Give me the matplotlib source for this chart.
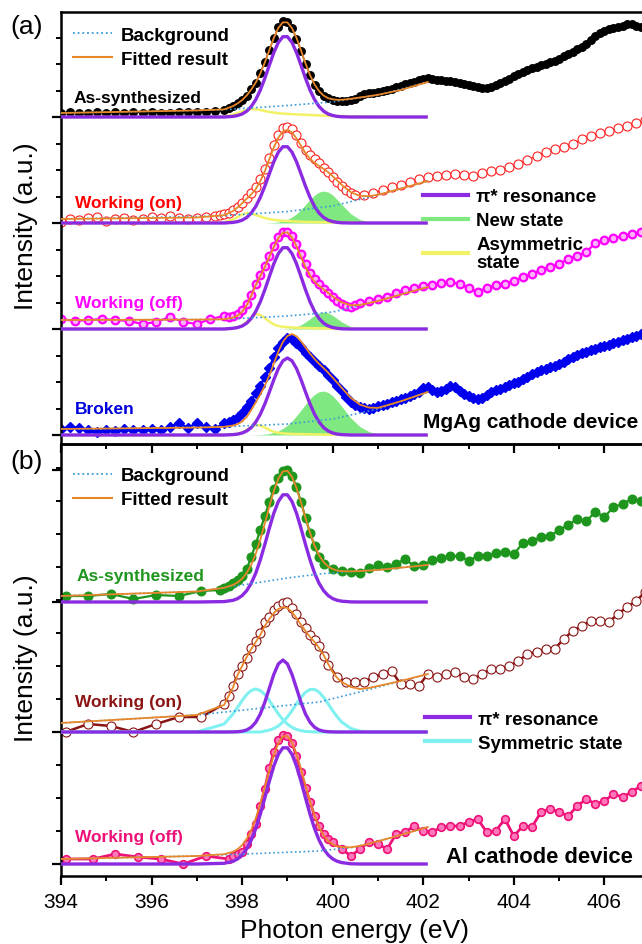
import numpy as np
import matplotlib
matplotlib.use("Agg")
import matplotlib.pyplot as plt
from matplotlib.lines import Line2D
from matplotlib.ticker import FixedLocator, MultipleLocator

plt.rcParams['font.family'] = ['Liberation Sans', 'DejaVu Sans']

# ------------------------------------------------------------------
# Shared energy grid of the fitted curves (eV)
FX = [394.0, 397.0, 397.6, 397.8, 397.9, 398.0, 398.1, 398.2, 398.3, 398.4,
      398.5, 398.6, 398.7, 398.8, 398.9, 399.0, 399.1, 399.2, 399.3, 399.4,
      399.5, 399.6, 399.7, 399.8, 399.9, 400.0, 400.1, 400.2, 400.4, 400.6,
      400.8, 401.0, 401.5, 402.1]

# ======================= Panel (a): MgAg cathode ===================
BGX_A = [394.0, 397.5, 399.0, 400.0, 401.0, 402.1]

# As-synthesized
as_a_left_y = [4, 5, 4, 4, 5, 4, 5, 4, 5, 4, 5, 4, 4, 5, 5, 5, 5, 6, 7]
as_a_peak_y = [9, 11, 14, 17, 21, 28, 34, 44, 55, 67, 79, 90, 96, 95, 89, 78, 66, 53,
               42, 32, 26, 21, 19, 17, 16, 16, 16, 17, 18]
as_a_tail_y = [21, 23, 24, 24, 25, 26, 27, 28, 30, 31, 33, 34, 35, 37, 38, 39, 38, 37,
               37, 36, 36, 35, 34, 33, 32, 31, 30, 29, 29, 30, 32, 34, 36, 38, 41, 43,
               45, 47, 49, 50, 52, 53, 55, 56, 58, 61, 63, 65, 68, 70, 73, 77, 81, 84,
               86, 88, 89, 90, 91, 93, 93, 91, 90, 89, 88]
pi_as_a = [0, 0, 0, 0.6, 1.5, 3.0, 5.8, 10.4, 17.3, 26.8, 38.6, 51.8, 64.5, 74.6, 80.3,
           80.3, 74.6, 64.5, 51.8, 38.6, 26.8, 17.3, 10.4, 5.8, 3.0, 1.5, 0.6, 0.2,
           0, 0, 0, 0, 0, 0]
yel_as_a = [0, 0, 0.3, 2.5, 4, 5.5, 7, 8, 7.8, 7, 6, 5, 4.3, 3.8, 3.4, 3.1, 2.8, 2.6,
            2.4, 2.2, 2.0, 1.8, 1.6, 1.4, 1.2, 1.1, 1.0, 0.9, 0.7, 0.5, 0.3, 0.2, 0, 0]
fit_as_a = [4, 6.6, 7.6, 10.9, 13.6, 16.9, 21.5, 27.4, 34.4, 43.3, 54.4, 66.9, 79.2,
            89.1, 94.7, 94.6, 88.9, 79.2, 66.6, 53.5, 41.8, 32.5, 25.8, 21.4, 18.8,
            17.7, 17.2, 17.2, 18.2, 19.5, 20.8, 22.2, 27, 35]
bg_as_a = [4, 7, 11.5, 15.1, 22, 35]

# Working (on)
on_a_left_y = [1, 4, 3, 5, 6, 2, 4, 5, 3, 4, 6, 5, 7, 5, 4, 5, 6, 7]
on_a_peak_y = [8, 9, 10, 13, 16, 20, 25, 30, 36, 44, 54, 65, 78, 88, 95, 96, 94, 88,
               80, 73, 68, 64, 60, 55, 51, 46, 41, 37, 33, 30, 28]
on_a_tail_y = [28, 30, 33, 36, 38, 41, 44, 46, 47, 48, 49, 48, 47, 50, 52, 53, 56, 59,
               63, 67, 71, 74, 76, 79, 84, 87, 90, 92, 95, 97, 100, 103, 105]
pi_on_a = [0, 0, 0, 0.6, 1.4, 2.8, 5.5, 9.9, 16.5, 25.5, 36.7, 49.2, 61.3, 70.9, 76.3,
           76.3, 70.9, 61.3, 49.2, 36.7, 25.5, 16.5, 9.9, 5.5, 2.8, 1.4, 0.6, 0.2,
           0, 0, 0, 0, 0, 0]
yel_on_a = [0, 0, 0.5, 3.5, 6, 8.5, 10, 9.5, 8, 6.5, 5, 4, 3.2, 2.6, 2.2, 1.9, 1.7,
            1.5, 1.3, 1.1, 1.0, 0.9, 0.8, 0.7, 0.6, 0.5, 0.4, 0.3, 0.2, 0.1, 0, 0, 0, 0]
grn_on_a = [0, 0, 0, 0, 0, 0, 0, 0, 0, 0, 0, 0.2, 0.5, 1.0, 2.0, 3.5, 5.9, 9.2, 13.5,
            18.4, 23.4, 27.9, 30.9, 32, 30.9, 27.9, 23.4, 18.4, 9.2, 3.5, 1.0, 0.2, 0, 0]
fit_on_a = [4, 5.5, 7.8, 12.0, 15.6, 19.8, 24.3, 28.5, 33.9, 41.7, 51.7, 63.7, 75.6,
            85.4, 91.7, 93.2, 90.6, 84.6, 77.2, 69.9, 64.2, 60.1, 57.0, 54.1, 50.8,
            46.8, 42.5, 38.1, 30.8, 27.1, 26.8, 28.2, 34.4, 42]
bg_on_a = [4, 7, 11.5, 17, 28, 42]

# Working (off)
off_a_left_y = [10, 8, 9, 10, 9, 8, 5, 7, 12, 7, 5, 10, 13]
off_a_peak_y = [12, 13, 15, 19, 25, 34, 45, 54, 63, 73, 83, 92, 97, 97, 93, 85, 75,
                65, 56, 50, 45, 40, 36, 32, 28, 25, 23, 22, 24]
off_a_tail_y = [26, 28, 30, 32, 36, 39, 41, 43, 44, 46, 47, 45, 41, 37, 41, 44, 45,
                48, 52, 55, 59, 62, 65, 70, 73, 77, 86, 89, 91, 93, 95, 97, 99]
pi_off_a = [0, 0, 0, 0.7, 1.5, 3.0, 5.8, 10.5, 17.5, 27.1, 39.1, 52.4, 65.3, 75.5,
            81.3, 81.3, 75.5, 65.3, 52.4, 39.1, 27.1, 17.5, 10.5, 5.8, 3.0, 1.5, 0.7,
            0.2, 0, 0, 0, 0, 0, 0]
yel_off_a = [0, 0, 0, 0.5, 1.5, 3.5, 7, 11.5, 15, 14, 11, 7.5, 4.5, 3, 2.2, 1.8, 1.5,
             1.3, 1.1, 1.0, 0.9, 0.8, 0.7, 0.6, 0.5, 0.4, 0.3, 0.2, 0.1, 0, 0, 0, 0, 0]
grn_off_a = [0, 0, 0, 0, 0, 0, 0, 0, 0, 0, 0, 0, 0, 0.1, 0.2, 0.5, 1.1, 2.3, 4.2, 7.0,
             10.3, 13.6, 16.1, 17, 16.1, 13.6, 10.3, 7.0, 2.3, 0.5, 0.1, 0, 0, 0]
fit_off_a = [9, 9.4, 9.7, 11.4, 13.4, 17.2, 23.7, 33.1, 43.9, 52.7, 61.9, 72.0, 82.1,
             91.0, 96.3, 96.6, 91.5, 82.7, 71.9, 61.7, 53.3, 47.3, 43.1, 39.6, 36.2,
             32.5, 29.4, 26.6, 23.8, 24.1, 25.9, 28, 34.4, 42]
bg_off_a = [9, 9.5, 13, 17, 28, 42]

# Broken
br_a_left_y = [6, 8, 7, 5, 3, 5, 4, 6, 5, 5, 6, 5, 8, 12, 7, 12, 8, 6, 12]
br_a_peak_y = [13, 15, 18, 22, 28, 34, 42, 49, 58, 67, 78, 87, 93, 97, 96, 92, 88, 82,
               78, 73, 69, 65, 60, 55, 49, 44, 38, 33, 30]
br_a_tail_y = [28, 27, 26, 27, 29, 30, 31, 33, 34, 36, 37, 39, 41, 43, 47, 48, 45, 43,
               44, 46, 49, 48, 44, 41, 39, 37, 36, 37, 40, 43, 45, 46, 48, 50, 52, 53,
               56, 58, 61, 63, 65, 66, 68, 69, 71, 73, 76, 78, 80, 82, 83, 85, 86, 88,
               89, 90, 92, 93, 95, 96, 98, 99, 101, 102, 103]
pi_br_a = [0, 0, 0, 0.4, 0.9, 2.0, 4.0, 7.4, 12.9, 20.7, 30.9, 42.9, 55.4, 66.5, 74.2,
           77.0, 74.2, 66.5, 55.4, 42.9, 30.9, 20.7, 12.9, 7.4, 4.0, 2.0, 0.9, 0.4,
           0, 0, 0, 0, 0, 0]
yel_br_a = [0, 0, 0, 0.5, 1.2, 2.5, 5, 8, 10, 9.5, 7.5, 5, 3.2, 2.2, 1.6, 1.3, 1.1,
            1.0, 0.9, 0.8, 0.7, 0.6, 0.5, 0.4, 0.3, 0.25, 0.2, 0.15, 0.1, 0, 0, 0, 0, 0]
grn_br_a = [0, 0, 0, 0, 0, 0, 0, 0.1, 0.2, 0.4, 0.8, 1.4, 2.5, 4.1, 6.5, 9.8, 14.1,
            19.2, 24.9, 30.8, 36.3, 40.6, 43.3, 44, 42.5, 39.0, 34.2, 28.5, 17.0, 8.4,
            3.4, 1.1, 0, 0]
fit_br_a = [6, 7.4, 8.2, 9.5, 10.9, 13.5, 18.2, 24.9, 32.7, 40.4, 49.2, 59.5, 71.5,
            83.4, 93.1, 99.1, 100.9, 98.7, 93.7, 87.5, 81.4, 75.9, 71.2, 66.8, 62.3,
            57.3, 52.3, 47.1, 37.1, 30.4, 27.4, 27.1, 33.7, 43]
bg_br_a = [6, 8, 11, 16, 26, 43]

# ======================= Panel (b): Al cathode =====================
BGX_B = [394.0, 397.0, 398.0, 399.0, 399.7, 400.5, 401.2, 402.1]

# As-synthesized
as_b_left_x = [394.1, 394.6, 395.1, 395.6, 396.1, 396.6, 397.1, 397.5]
as_b_left_y = [6, 6, 8, 3, 7, 6, 11, 12]
as_b_peak_y = [14, 16, 19, 22, 26, 33, 45, 58, 72, 86, 100, 113, 124, 131, 132, 126,
               115, 100, 84, 69, 56, 45, 38]
as_b_tail_y = [33, 31, 30, 29, 34, 37, 35, 38, 43, 36, 37, 42, 44, 46, 46, 41, 46, 46,
               49, 50, 48, 59, 61, 65, 66, 72, 77, 83, 81, 90, 85, 95, 98, 103, 101]
pi_as_b = [0, 0, 0.4, 1.7, 3.4, 6.4, 11.3, 18.6, 28.8, 42.0, 57.4, 73.7, 88.9, 100.6,
           107.2, 107.2, 100.6, 88.9, 73.7, 57.4, 42.0, 28.8, 18.6, 11.3, 6.4, 3.4,
           1.7, 0.8, 0.1, 0, 0, 0, 0, 0]
fit_as_b = [6, 10.5, 14.2, 17.1, 19.6, 23.4, 29.1, 37.2, 48.2, 62.2, 78.4, 95.3, 111.1,
            123.4, 130.6, 131.2, 125.2, 114.1, 99.5, 83.8, 69.0, 56.3, 46.6, 39.8,
            35.4, 32.9, 31.5, 30.8, 30.6, 31, 31.5, 32, 34.3, 37]
bg_as_b = [6, 10.5, 17, 24, 28, 30.8, 33, 37]

# Working (on)
on_b_left_x = [394.1, 394.6, 395.1, 395.6, 396.1, 396.6, 397.1, 397.6]
on_b_left_y = [0, 8, 6, 0, 8, 15, 15, 28]
on_b_peak_y = [36, 46, 58, 66, 74, 84, 91, 99, 110, 115, 122, 126, 129, 130, 124, 118,
               110, 104, 97, 92, 86, 76, 67]
on_b_tail_y = [55, 50, 50, 50, 55, 58, 61, 48, 48, 46, 58, 55, 58, 60, 55, 53, 58, 63,
               63, 66, 71, 78, 80, 83, 83, 93, 101, 106, 111, 111, 110, 118, 125, 131,
               140]
pi_on_b = [0, 0, 0, 0.1, 0.3, 0.8, 2.0, 4.7, 9.7, 17.9, 29.6, 43.7, 57.7, 68.1, 72,
           68.1, 57.7, 43.7, 29.6, 17.9, 9.7, 4.7, 2.0, 0.8, 0.3, 0.1, 0, 0, 0, 0, 0,
           0, 0, 0]
sym1_on_b = [0, 0.1, 7.9, 18.1, 24.7, 31.5, 37.5, 41.5, 43, 41.5, 37.5, 31.5, 24.7,
             18.1, 12.3, 7.9, 4.7, 2.6, 1.3, 0.6, 0.3, 0.1, 0, 0, 0, 0, 0, 0, 0, 0, 0,
             0, 0, 0]
sym2_on_b = [0, 0, 0, 0, 0, 0, 0, 0, 0, 0, 0.9, 1.9, 3.5, 6.1, 9.9, 15.1, 21.3, 28.1,
             34.6, 39.8, 42.6, 42.6, 39.8, 34.6, 28.1, 21.3, 15.1, 9.9, 3.5, 0.9, 0.2,
             0, 0, 0]
fit_on_b = [9, 17, 27, 45, 57, 66, 75, 83, 90, 97, 106, 113, 119, 123, 125, 124, 120,
            114, 107, 101, 95, 90, 84, 77, 68, 60, 54, 50, 45, 43, 44, 46, 51, 58]
bg_on_b = [9, 17, 21.8, 26.7, 30, 38.9, 47.2, 58]

# Working (off)
off_b_left_x = [394.1, 394.7, 395.2, 395.7, 396.2, 396.7, 397.2, 397.7]
off_b_left_y = [5, 5, 10, 7, 5, 0, 8, 5]
off_b_peak_y = [8, 10, 12, 20, 30, 40, 58, 75, 96, 112, 124, 129, 128, 121, 108, 92,
                76, 62, 48, 38, 30, 25]
off_b_tail_y = [22, 15, 8, 15, 22, 20, 15, 30, 32, 38, 33, 32, 37, 38, 38, 42, 45, 32,
                33, 45, 28, 38, 37, 52, 55, 52, 48, 58, 65, 60, 63, 70, 67, 72, 78]
pi_off_b = [0, 0, 0.7, 2.7, 5.1, 9.0, 15.1, 23.8, 35.3, 49.6, 65.9, 82.7, 98.0, 109.7,
            116.2, 116.2, 109.7, 98.0, 82.7, 65.9, 49.6, 35.3, 23.8, 15.1, 9.0, 5.1,
            2.7, 1.4, 0.2, 0, 0, 0, 0, 0]
fit_off_b = [5, 8, 9.8, 12.2, 14.8, 18.9, 25.1, 34.0, 45.7, 60.2, 76.7, 93.7, 109.1,
             121.0, 127.7, 127.9, 121.6, 110.1, 94.9, 78.3, 62.2, 48.1, 36.8, 28.6,
             23.0, 19.6, 17.7, 16.9, 16.7, 18.1, 20.4, 22.7, 29, 37]
bg_off_b = [5, 8, 9.9, 11.7, 13, 17, 25, 37]

# x tick labels
XTICKS = [394, 396, 398, 400, 402, 404, 406]

# ------------------------------------------------------------------
C_PI = '#8a2be2'
C_GRN = '#80e880'
C_YEL = '#f2f266'
C_CYAN = '#80f0f0'
C_BG = '#3a9ad9'
C_FIT = '#e8862a'

W, H = 642, 945
fig = plt.figure(figsize=(W / 100, H / 100), dpi=100)


def px_axes(l, t, r, b):
    return fig.add_axes([l / W, 1 - b / H, (r - l) / W, (b - t) / H])


ax_a = px_axes(61, 13, 695, 445)
ax_b = px_axes(61, 445, 695, 877)


def seg(x0, x1, ys):
    return np.linspace(x0, x1, len(ys))


def data(ax, off, xs, ys, **kw):
    x = np.concatenate(xs)
    y = np.concatenate([np.asarray(v, float) for v in ys]) + off
    ax.plot(x, y, zorder=2, **kw)


def comp(ax, off, vals, color, lw, z=4):
    ax.plot(FX, off + np.asarray(vals, float), color=color, lw=lw, zorder=z,
            solid_capstyle='butt')


def green(ax, off, vals):
    ax.fill_between(FX, off, off + np.asarray(vals, float), color=C_GRN, lw=0, zorder=1)


def bgfit(ax, off, bgx, bg, fit):
    ax.plot(bgx, off + np.asarray(bg, float), ls=(0, (1, 1.6)), color=C_BG, lw=1.2, zorder=5)
    ax.plot(FX, off + np.asarray(fit, float), color=C_FIT, lw=1.3, zorder=6)


# ---------------- panel (a) ----------------
OFF_A = [9, 115, 221, 327]   # broken, off, on, as-synth baselines

o = OFF_A[3]
data(ax_a, o, [seg(394.0, 397.6, as_a_left_y), seg(397.7, 400.5, as_a_peak_y),
               seg(400.6, 407.0, as_a_tail_y)],
     [as_a_left_y, as_a_peak_y, as_a_tail_y],
     color='black', lw=1.0, marker='o', ms=5.4, mfc='black', mec='black')
comp(ax_a, o, yel_as_a, C_YEL, 1.8, 3)
comp(ax_a, o, pi_as_a, C_PI, 2.4)
bgfit(ax_a, o, BGX_A, bg_as_a, fit_as_a)

o = OFF_A[2]
green(ax_a, o, grn_on_a)
data(ax_a, o, [seg(394.0, 397.4, on_a_left_y), seg(397.5, 400.5, on_a_peak_y),
               seg(400.7, 407.1, on_a_tail_y)],
     [on_a_left_y, on_a_peak_y, on_a_tail_y],
     color='#ff2020', lw=0.9, marker='o', ms=6.5, mfc='white', mec='#ff2020', mew=0.8)
comp(ax_a, o, yel_on_a, C_YEL, 1.8, 3)
comp(ax_a, o, pi_on_a, C_PI, 2.4)
bgfit(ax_a, o, BGX_A, bg_on_a, fit_on_a)

o = OFF_A[1]
green(ax_a, o, grn_off_a)
data(ax_a, o, [seg(394.0, 397.6, off_a_left_y), seg(397.7, 400.5, off_a_peak_y),
               seg(400.6, 407.0, off_a_tail_y)],
     [off_a_left_y, off_a_peak_y, off_a_tail_y],
     color='#ff00ff', lw=1.6, marker='o', ms=5.5, mfc='#ffb3ff', mec='#ff00ff', mew=1.6)
comp(ax_a, o, yel_off_a, C_YEL, 1.8, 3)
comp(ax_a, o, pi_off_a, C_PI, 2.4)
bgfit(ax_a, o, BGX_A, bg_off_a, fit_off_a)

o = OFF_A[0]
green(ax_a, o, grn_br_a)
data(ax_a, o, [seg(394.0, 397.6, br_a_left_y), seg(397.7, 400.5, br_a_peak_y),
               seg(400.6, 407.0, br_a_tail_y)],
     [br_a_left_y, br_a_peak_y, br_a_tail_y],
     color='#0000ee', lw=1.8, marker='D', ms=5.0, mfc='#0000ee', mec='#0000ee')
comp(ax_a, o, yel_br_a, C_YEL, 1.8, 3)
comp(ax_a, o, pi_br_a, C_PI, 2.4)
bgfit(ax_a, o, BGX_A, bg_br_a, fit_br_a)

# ---------------- panel (b) ----------------
OFF_B = [12, 144, 274]   # off, on, as-synth baselines

o = OFF_B[2]
data(ax_b, o, [np.array(as_b_left_x), seg(397.6, 399.8, as_b_peak_y),
               seg(400.0, 406.8, as_b_tail_y)],
     [as_b_left_y, as_b_peak_y, as_b_tail_y],
     color='#1e961e', lw=1.6, marker='o', ms=6.2, mfc='#1e961e', mec='#1e961e')
comp(ax_b, o, pi_as_b, C_PI, 2.4)
bgfit(ax_b, o, BGX_B, bg_as_b, fit_as_b)

o = OFF_B[1]
data(ax_b, o, [np.array(on_b_left_x), seg(397.7, 399.9, on_b_peak_y),
               seg(400.1, 406.9, on_b_tail_y)],
     [on_b_left_y, on_b_peak_y, on_b_tail_y],
     color='#8b1414', lw=1.8, marker='o', ms=6.5, mfc='white', mec='#8b1414', mew=0.8)
comp(ax_b, o, sym1_on_b, C_CYAN, 2.2, 3)
comp(ax_b, o, sym2_on_b, C_CYAN, 2.2, 3)
comp(ax_b, o, pi_on_b, C_PI, 2.4)
bgfit(ax_b, o, BGX_B, bg_on_b, fit_on_b)

o = OFF_B[0]
data(ax_b, o, [np.array(off_b_left_x), seg(397.8, 399.9, off_b_peak_y),
               seg(400.0, 406.8, off_b_tail_y)],
     [off_b_left_y, off_b_peak_y, off_b_tail_y],
     color='#ee1177', lw=2.0, marker='o', ms=5.5, mfc='#ff77bb', mec='#ee1177', mew=1.2)
comp(ax_b, o, pi_off_b, C_PI, 2.4)
bgfit(ax_b, o, BGX_B, bg_off_b, fit_off_b)

# ---------------- axes styling ----------------
for ax in (ax_a, ax_b):
    ax.set_xlim(394, 408)
    ax.set_ylim(0, 432)
    ax.patch.set_visible(False)
    for s in ax.spines.values():
        s.set_linewidth(1.8)
    ax.xaxis.set_major_locator(FixedLocator(XTICKS))
    ax.xaxis.set_minor_locator(MultipleLocator(1))
    ax.tick_params(which='major', direction='out', length=6.5, width=1.6, labelsize=15,
                   pad=5)
    ax.tick_params(which='minor', direction='out', length=3.8, width=1.4)
    ax.tick_params(axis='y', labelleft=False)
    ax.tick_params(top=False, right=False)

step_a = (OFF_A[1] - OFF_A[0]) / 4
ax_a.yaxis.set_major_locator(FixedLocator(OFF_A))
ax_a.yaxis.set_minor_locator(FixedLocator([OFF_A[0] + k * step_a for k in range(17)]))
ax_a.tick_params(axis='x', labelbottom=False)

step_b = (OFF_B[1] - OFF_B[0]) / 4
ax_b.yaxis.set_major_locator(FixedLocator(OFF_B + [OFF_B[2] + 4 * step_b]))
ax_b.yaxis.set_minor_locator(FixedLocator([OFF_B[0] + k * step_b for k in range(13)]))

# ---------------- text ----------------
lab = dict(fontsize=12.5, fontweight='bold', va='center', ha='left')
ax_a.text(394.27, 347, 'As-synthesized', color='black', **lab)
ax_a.text(394.3, 242, 'Working (on)', color='#ff0000', **lab)
ax_a.text(394.3, 142, 'Working (off)', color='#ff00ff', **lab)
ax_a.text(394.3, 35, 'Broken', color='#0000dd', **lab)
ax_a.text(402.0, 22, 'MgAg cathode device', fontsize=15, fontweight='bold',
          va='center', ha='left', color='black')

ax_b.text(394.35, 300, 'As-synthesized', color='#1e961e', **lab)
ax_b.text(394.3, 174, 'Working (on)', color='#8b1414', **lab)
ax_b.text(394.3, 39, 'Working (off)', color='#ee1177', **lab)
ax_b.text(402.5, 19, 'Al cathode device', fontsize=15.8, fontweight='bold',
          va='center', ha='left', color='black')

# legends
legkw = dict(loc='upper left', frameon=False, prop={'weight': 'bold', 'size': 13.5},
             handletextpad=0.45, labelspacing=0.36, borderpad=0, borderaxespad=0)
h_bg = Line2D([], [], ls=(0, (1, 1.6)), color=C_BG, lw=1.3)
h_fit = Line2D([], [], color=C_FIT, lw=1.5)
h_pi = Line2D([], [], color=C_PI, lw=3)
h_grn = Line2D([], [], color=C_GRN, lw=3)
h_yel = Line2D([], [], color=C_YEL, lw=3)
h_cy = Line2D([], [], color=C_CYAN, lw=3)

l1 = ax_a.legend([h_bg, h_fit], ['Background', 'Fitted result'], handlelength=2.1,
                 bbox_to_anchor=(0.019, 0.966), **legkw)
ax_a.add_artist(l1)
l3 = ax_a.legend([h_pi, h_grn, h_yel], ['\u03c0* resonance', 'New state', 'Asymmetric\nstate'],
                 handlelength=2.4, bbox_to_anchor=(0.571, 0.592), **legkw)
for t in l3.get_texts():
    t.set_linespacing(1.05)

l2 = ax_b.legend([h_bg, h_fit], ['Background', 'Fitted result'], handlelength=2.1,
                 bbox_to_anchor=(0.019, 0.946), **legkw)
ax_b.add_artist(l2)
ax_b.legend([h_pi, h_cy], ['\u03c0* resonance', 'Symmetric state'],
            handlelength=2.4, bbox_to_anchor=(0.574, 0.383), **legkw)

fig.text(27 / W, 1 - 27 / H, '(a)', fontsize=19, ha='center', va='center')
fig.text(27 / W, 1 - 462 / H, '(b)', fontsize=19, ha='center', va='center')
fig.text(26 / W, 1 - 226 / H, 'Intensity (a.u.)', fontsize=19, rotation=90,
         ha='center', va='center')
fig.text(26 / W, 1 - 658 / H, 'Intensity (a.u.)', fontsize=19, rotation=90,
         ha='center', va='center')
fig.text(355 / W, 1 - 938 / H, 'Photon energy (eV)', fontsize=19, ha='center',
         va='baseline')

fig.savefig('out.png', dpi=100)
